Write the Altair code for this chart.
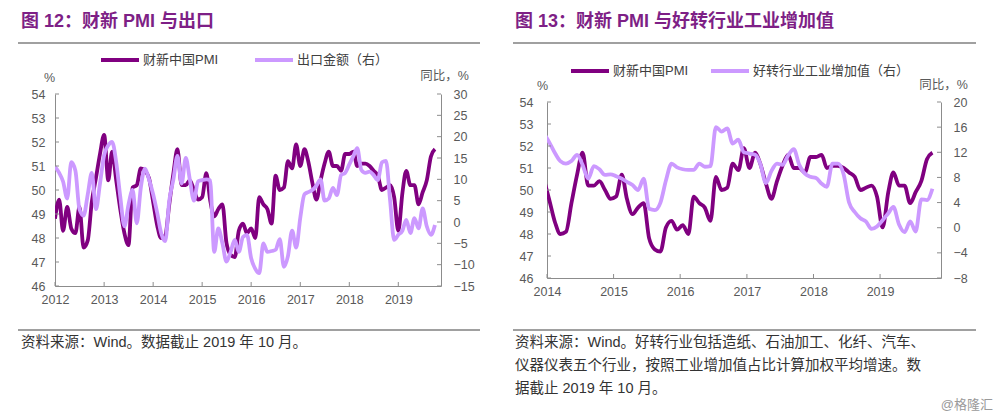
import altair as alt
import pandas as pd

FONT = "Liberation Sans, Noto Sans CJK SC, sans-serif"
DARK = "#800080"
LIGHT = "#CC99FF"
TITLE_C = "#7E1F86"
AXIS_C = "#8C8C8C"
LABEL_C = "#595959"
RULE_C = "#A0A0A0"
TEXT_C = "#333333"

# ---------------- data ----------------
# Caixin China manufacturing PMI, monthly 2012-01 .. 2019-10
pmi = [48.8, 49.6, 48.3, 49.3, 48.4, 48.2, 49.3, 47.6, 47.9, 49.5, 50.5, 51.5,
       52.3, 50.4, 51.6, 50.4, 49.2, 48.2, 47.7, 50.1, 50.2, 50.9, 50.8, 50.5,
       49.5, 48.5, 48.0, 48.1, 49.4, 50.7, 51.7, 50.2, 50.2, 50.4, 50.0, 49.6,
       49.7, 50.7, 49.6, 48.9, 49.2, 49.4, 47.8, 47.3, 47.2, 48.3, 48.6, 48.2,
       48.4, 48.0, 49.7, 49.4, 49.2, 48.6, 50.6, 50.0, 50.1, 51.2, 50.9, 51.9,
       51.0, 51.7, 51.2, 50.3, 49.6, 50.4, 51.1, 51.6, 51.0, 51.0, 50.8, 51.5,
       51.5, 51.6, 51.0, 51.1, 51.1, 51.0, 50.8, 50.6, 50.0, 50.1, 50.2, 49.7,
       48.3, 49.9, 50.8, 50.2, 50.2, 49.4, 49.9, 50.4, 51.4, 51.7]

# export value y/y (%), monthly 2012-01 .. 2019-10
export_yoy = [13.0, 11.5, 9.5, 5.5, 14.0, 12.0, 3.0, 1.5, 6.5, 11.5, 3.0, 9.0,
              15.7, 18.0, 18.8, 14.0, 6.0, -1.0, 4.0, 7.5, -0.3, 8.0, 12.5, 10.0,
              6.5, 2.0, -2.5, -4.5, 5.0, 10.0, 15.5, 9.0, 15.0, 10.0, 5.0, 9.5,
              9.8, 10.0, 9.8, -7.0, -1.5, -5.0, -9.3, -7.0, -4.2, -7.0, -3.5, -3.0,
              -8.5, -11.0, -12.0, -5.0, -7.0, -6.8, -6.5, -4.0, -10.5, -8.0, -2.0, -6.0,
              1.0, 6.5, 7.0, 7.5, 8.5, 10.0, 5.0, 5.5, 8.0, 6.3, 11.0, 11.5,
              13.5, 15.5, 17.3, 12.2, 11.5, 11.8, 11.0, 9.8, 14.0, 14.3, 5.0, -4.2,
              -3.0, -2.0, 0.5, -2.6, 0.9, -1.5, 3.2, -1.0, -3.0, -0.7]

# value added of improving industries y/y (%), monthly 2013-12 .. 2019-10
good_va = [15.0, 13.5, 11.8, 10.6, 10.2, 10.6, 11.6, 10.0, 7.8, 9.8, 9.3, 8.4,
           8.5, 8.2, 7.8, 7.3, 6.8, 6.0, 7.8, 3.0, 2.8, 4.0, 7.5, 10.2,
           9.6, 9.3, 9.2, 9.2, 10.2, 9.7, 9.8, 16.0, 15.3, 15.8, 13.4, 14.0,
           12.0, 11.8, 11.6, 10.2, 7.1, 9.0, 10.2, 10.0, 11.5, 12.5, 10.0, 8.6,
           8.1, 7.9, 7.0, 6.5, 10.2, 10.2, 8.5, 4.0, 2.5, 1.5, 1.0, -0.2,
           0.2, 1.2, 2.3, 3.3, 0.5, -0.7, 1.0, -0.6, 4.5, 4.4, 6.2]

left_years = [2012, 2013, 2014, 2015, 2016, 2017, 2018, 2019]
right_years = [2014, 2015, 2016, 2017, 2018, 2019]
pmi_ticks = [46, 47, 48, 49, 50, 51, 52, 53, 54]
export_ticks = [-15, -10, -5, 0, 5, 10, 15, 20, 25, 30]
va_ticks = [-8, -4, 0, 4, 8, 12, 16, 20]

PMI_NAME = "财新中国PMI"
EXP_NAME = "出口金额（右）"
VA_NAME = "好转行业工业增加值（右）"

TITLE_L = "图 12：财新 PMI 与出口"
TITLE_R = "图 13：财新 PMI 与好转行业工业增加值"
SRC_L = "资料来源：Wind。数据截止 2019 年 10 月。"
SRC_R = ["资料来源：Wind。好转行业包括造纸、石油加工、化纤、汽车、",
         "仪器仪表五个行业，按照工业增加值占比计算加权平均增速。数",
         "据截止 2019 年 10 月。"]
WATERMARK = "@格隆汇"

# ---------------- tables ----------------
left_dates = pd.date_range("2012-01-01", periods=len(pmi), freq="MS")
df_l_pmi = pd.DataFrame({"date": left_dates, "v": pmi, "series": PMI_NAME})
df_l_exp = pd.DataFrame({"date": left_dates, "v": export_yoy, "series": EXP_NAME})

right_dates = pd.date_range("2013-12-01", periods=len(good_va), freq="MS") + pd.Timedelta(days=14)
pmi_r = pmi[len(pmi) - len(good_va):]
df_r_pmi = pd.DataFrame({"date": right_dates, "v": pmi_r, "series": PMI_NAME})
df_r_va = pd.DataFrame({"date": right_dates, "v": good_va, "series": VA_NAME})

one = pd.DataFrame({"k": [0]})


def year_df(years):
    return pd.DataFrame({"date": pd.to_datetime([f"{y}-01-01" for y in years])})


def xchan(d0, d1):
    return alt.X("date:T",
                 scale=alt.Scale(domain=[d0, d1]),
                 axis=alt.Axis(title=None, format="%Y",
                               tickCount={"interval": "year", "step": 1},
                               ticks=False, tickSize=0, labelPadding=7,
                               labelFlush=False, labelOverlap=False,
                               domainColor=AXIS_C, labelColor=LABEL_C,
                               labelFont=FONT, labelFontSize=12.5, grid=False))


def yscale(domain, H, top):
    return alt.Scale(domain=domain, nice=False, zero=False, range=[H, top])


def ychan(domain, H, top, values, orient, title, tx, ty, lpad):
    return alt.Y("v:Q", scale=yscale(domain, H, top),
                 axis=alt.Axis(orient=orient, values=values, title=title,
                               titleAngle=0, titleX=tx, titleY=ty,
                               titleAlign="center", titleBaseline="middle",
                               titleFont=FONT, titleFontSize=12.5,
                               titleFontWeight="normal", titleColor=LABEL_C,
                               ticks=False, tickSize=0, labelPadding=lpad,
                               labelFlush=False, labelOverlap=False,
                               domainColor=AXIS_C, labelColor=LABEL_C,
                               labelFont=FONT, labelFontSize=12.5, grid=False))


def ytick(values, domain, H, top, x0, x1):
    return alt.Chart(pd.DataFrame({"v": values})).mark_rule(
        color=AXIS_C, strokeWidth=1).encode(
        y=alt.Y("v:Q", scale=yscale(domain, H, top), axis=None),
        x=alt.value(x0), x2=alt.value(x1))


def panel(df_dark, df_light, light_name, d0, d1, years, right_domain, right_ticks,
          W, H, top, geo):
    color = alt.Color("series:N",
                      scale=alt.Scale(domain=[PMI_NAME, light_name], range=[DARK, LIGHT]),
                      legend=alt.Legend(orient="none", legendX=geo["lx"], legendY=geo["ly"],
                                        direction="horizontal", title=None,
                                        symbolType="stroke", symbolSize=1444,
                                        symbolStrokeWidth=4, labelFont=FONT,
                                        labelFontSize=13, labelColor="#404040",
                                        labelOffset=2, columnPadding=geo["cp"],
                                        labelLimit=300))
    x = xchan(d0, d1)
    dark = alt.Chart(df_dark).mark_line(interpolate="monotone", strokeWidth=3.8, clip=True).encode(
        x=x, y=ychan([46, 54], H, top, pmi_ticks, "left", "%", geo["ltx"], geo["lty"], geo["llp"]),
        color=color)
    light = alt.Chart(df_light).mark_line(interpolate="monotone", strokeWidth=3.8, clip=True).encode(
        x=x, y=ychan(right_domain, H, top, right_ticks, "right", "同比，%",
                     geo["rtx"], geo["rty"], geo["rlp"]),
        color=color)
    tk_l = ytick(pmi_ticks, [46, 54], H, top, 0, 4)
    tk_r = ytick(right_ticks, right_domain, H, top, W - 4, W)
    tk_x = alt.Chart(year_df(years)).mark_rule(color=AXIS_C, strokeWidth=1).encode(
        x=x, y=alt.value(H - 4), y2=alt.value(H))
    title = alt.Chart(one).mark_text(text=geo["title"], align="left", baseline="middle",
                                     font=FONT, fontSize=18, fontWeight="bold",
                                     color=TITLE_C).encode(
        x=alt.value(geo["tx"]), y=alt.value(-80))
    rule_top = alt.Chart(one).mark_rule(color=RULE_C, strokeWidth=2).encode(
        x=alt.value(geo["rx0"]), x2=alt.value(geo["rx1"]), y=alt.value(-59))
    rule_bot = alt.Chart(one).mark_rule(color=RULE_C, strokeWidth=2).encode(
        x=alt.value(geo["rx0"]), x2=alt.value(geo["rx1"]), y=alt.value(228))
    src = alt.Chart(one).mark_text(text=geo["src"], align="left", baseline="top",
                                   font=FONT, fontSize=14.5, lineHeight=23,
                                   color=TEXT_C).encode(
        x=alt.value(geo["tx"]), y=alt.value(234))
    layers = [dark, light, tk_l, tk_r, tk_x, title, rule_top, rule_bot, src]
    if geo.get("wm"):
        wm = alt.Chart(one).mark_text(text=WATERMARK, align="right", baseline="middle",
                                      font=FONT, fontSize=13, color="#9A9A9A").encode(
            x=alt.value(geo["wmx"]), y=alt.value(geo["wmy"]))
        layers.append(wm)
    return alt.layer(*layers).resolve_scale(y="independent").properties(width=W, height=H)


# left plot spans y 94..286 and right plot 102..278 on the page; both groups share origin y=102
left = panel(df_l_pmi, df_l_exp, EXP_NAME,
             alt.DateTime(year=2012, month=1, date=1), alt.DateTime(year=2019, month=11, date=15),
             left_years, [-15, 30], export_ticks, 386, 184, -8,
             dict(lx=44, ly=-63, cp=28, ltx=-6, lty=-25, llp=10, rtx=3, rty=-27, rlp=12,
                  title=TITLE_L, tx=-34, rx0=-37, rx1=425, src=SRC_L))

right = panel(df_r_pmi, df_r_va, VA_NAME,
              alt.DateTime(year=2014, month=1, date=1), alt.DateTime(year=2019, month=12, date=1),
              right_years, [-8, 20], va_ticks, 394, 176, 0,
              dict(lx=22, ly=-52, cp=14, ltx=-5, lty=-17, llp=14, rtx=2, rty=-18, rlp=12,
                   title=TITLE_R, tx=-32, rx0=-34, rx1=429,
                   src=SRC_R, wm=True, wmx=446, wmy=303))

chart = alt.hconcat(left, right, spacing=31).resolve_scale(
    color="independent").resolve_legend(color="independent").properties(
    padding={"left": 17, "top": 13, "right": 0, "bottom": 0}
).configure_view(stroke=None)

chart.save("out.html", embed_options={"renderer": "svg", "actions": False})
